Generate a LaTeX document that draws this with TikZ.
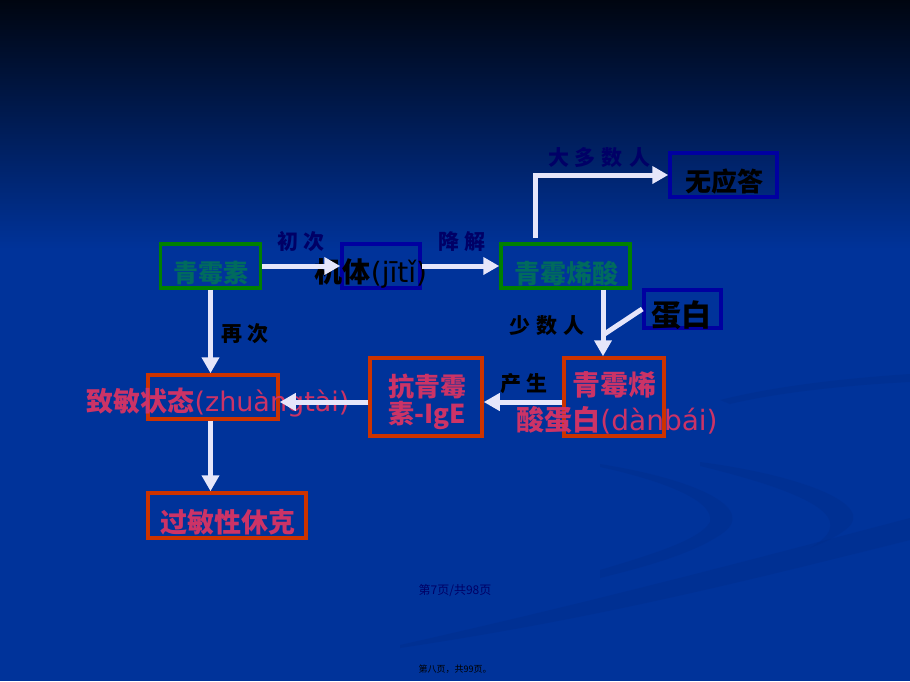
\documentclass[tikz,border=0pt]{standalone}
\usepackage{fontspec}
\setmainfont{DejaVu Sans}
\newfontfamily\cjk{Noto Sans CJK SC}
\usetikzlibrary{shapes, positioning, arrows.meta}
\definecolor{bgblue}{HTML}{00339A}
\definecolor{bgtop}{HTML}{000510}
\definecolor{swoosh}{HTML}{002C88}
\definecolor{boxgreen}{HTML}{008000}
\definecolor{boxblue}{HTML}{0000A0}
\definecolor{boxred}{HTML}{CC3300}
\definecolor{tealtext}{HTML}{006B5E}
\definecolor{pinktext}{HTML}{CC3366}
\definecolor{navytext}{HTML}{000066}
\definecolor{arrowwhite}{HTML}{E6E6FA}
\newcommand{\lblgap}{\hspace{6pt}}

\begin{document}
\begin{tikzpicture}[x=1pt,y=-1pt]
    \tikzstyle{every node}=[inner sep=0pt]
    \tikzstyle{greenbox}=[rectangle, draw=boxgreen, line width=3.5pt]
    \tikzstyle{bluebox}=[rectangle, draw=boxblue, line width=3.5pt]
    \tikzstyle{redbox}=[rectangle, draw=boxred, line width=3.5pt]
    \tikzstyle{boxtext}=[font=\cjk\bfseries\fontsize{26}{28}\selectfont]
    \tikzstyle{edgelabel}=[font=\cjk\bfseries\fontsize{21}{22}\selectfont]
    \tikzstyle{arrow}=[draw=arrowwhite, line width=5pt, -{Triangle[length=16pt,width=17pt]}]
    \tikzstyle{plain}=[draw=arrowwhite, line width=5pt]

    % background
    \useasboundingbox (0,0) rectangle (910,681);
    \fill[bgblue] (0,0) rectangle (910,681);
    \shade[top color=bgtop, bottom color=bgblue] (0,0) rectangle (910,250);
    \fill[swoosh, opacity=0.35] (400,645) .. controls (600,600) and (750,560) .. (910,518)
        -- (910,540) .. controls (750,580) and (600,618) .. (400,648) -- cycle;
    \fill[swoosh, opacity=0.35] (600,464) .. controls (700,480) and (760,510) .. (720,535)
        .. controls (690,555) and (640,568) .. (600,578)
        -- (600,570) .. controls (650,555) and (700,540) .. (710,522)
        .. controls (715,500) and (660,480) .. (600,467) -- cycle;
    \fill[swoosh, opacity=0.35] (700,462) .. controls (800,475) and (880,505) .. (845,530)
        .. controls (835,538) and (820,544) .. (810,548)
        .. controls (850,525) and (840,500) .. (700,466) -- cycle;
    \fill[swoosh, opacity=0.35] (720,400) .. controls (780,385) and (850,378) .. (910,374)
        -- (910,382) .. controls (850,385) and (780,392) .. (730,404) -- cycle;

    % boxes
    \node [greenbox, minimum width=100pt, minimum height=44pt] (qms) at (210.5,266) {};
    \node [bluebox, minimum width=78pt, minimum height=44pt] (jt) at (381,266) {};
    \node [greenbox, minimum width=129pt, minimum height=44pt] (qmxs) at (565.5,266) {};
    \node [bluebox, minimum width=107pt, minimum height=44pt] (wyd) at (723.5,175) {};
    \node [bluebox, minimum width=77pt, minimum height=38pt] (db) at (682.5,309) {};
    \node [redbox, minimum width=100pt, minimum height=78pt] (qmxsdb) at (614,397) {};
    \node [redbox, minimum width=112pt, minimum height=78pt] (kqms) at (426,397) {};
    \node [redbox, minimum width=130pt, minimum height=44pt] (zmzt) at (213,397) {};
    \node [redbox, minimum width=158pt, minimum height=45pt] (gmxk) at (227,515.5) {};

    % texts
    \node [boxtext, text=tealtext, font=\cjk\bfseries\fontsize{25}{26}\selectfont] (tqms) at (211,272.5) {青霉素};
    \node [text=black, font=\fontsize{28}{30}\selectfont] (tjt) at (371,273) {{\cjk\bfseries 机体}(jītǐ)};
    \node [boxtext, text=tealtext] (tqmxs) at (566,273.5) {青霉烯酸};
    \node [boxtext, text=black] (twyd) at (724,181.5) {无应答};
    \node [text=black, font=\cjk\bfseries\fontsize{30}{32}\selectfont] (tdb) at (681.5,315) {蛋白};
    \node [boxtext, text=pinktext, font=\cjk\bfseries\fontsize{28}{30}\selectfont] (tqmx) at (614,385) {青霉烯};
    \node [text=pinktext, font=\fontsize{28}{30}\selectfont] (tsdb) at (617,420) {{\cjk\bfseries 酸蛋白}(dànbái)};
    \node [boxtext, text=pinktext] (tkqm) at (427,386.5) {抗青霉};
    \node [boxtext, text=pinktext] (tsige) at (427,415.5) {素\textbf{-IgE}};
    \node [text=pinktext, font=\fontsize{27}{29}\selectfont] (tzmzt) at (218,403) {{\cjk\bfseries 致敏状态}(zhuàngtài)};
    \node [boxtext, text=pinktext, font=\cjk\bfseries\fontsize{27}{29}\selectfont] (tgmxk) at (227.5,522.5) {过敏性休克};

    % connectors
    \coordinate (split) at (535,238);
    \coordinate (join) at (603,335);
    \draw[arrow] (qms.east) -- (jt.west);
    \draw[arrow] (jt.east) -- (qmxs.west);
    \draw[arrow] (split) |- (wyd.west);
    \draw[arrow] (qmxs.south -| join) -- (qmxsdb.north -| join);
    \draw[plain] (db.west) -- (join);
    \draw[arrow] (qms.south) -- (qms.south |- zmzt.north);
    \draw[arrow] ([yshift=-5pt]qmxsdb.west) -- ([yshift=-5pt]kqms.east);
    \draw[arrow] ([yshift=-5pt]kqms.west) -- ([yshift=-5pt]zmzt.east);
    \draw[arrow] (qms.south |- zmzt.south) -- (qms.south |- gmxk.north);

    % edge labels
    \node [edgelabel, text=navytext] (lcc) at (301,242) {初\lblgap 次};
    \node [edgelabel, text=navytext] (ljj) at (462,241.5) {降\lblgap 解};
    \node [edgelabel, text=navytext] (ldds) at (599,157.5) {大\lblgap 多\lblgap 数\lblgap 人};
    \node [edgelabel, text=black] (lsr) at (547,326) {少\lblgap 数\lblgap 人};
    \node [edgelabel, text=black] (lzc) at (245,333.5) {再\lblgap 次};
    \node [edgelabel, text=black] (lcs) at (524,383.5) {产\lblgap 生};

    % footers
    \node [font=\cjk\fontsize{12}{13}\selectfont, text=navytext] (page) at (455,590) {第7页/共98页};
    \node [font=\cjk\fontsize{9}{10}\selectfont, text=black] (pagetwo) at (455,669) {第八页，共99页。};
\end{tikzpicture}
\end{document}
